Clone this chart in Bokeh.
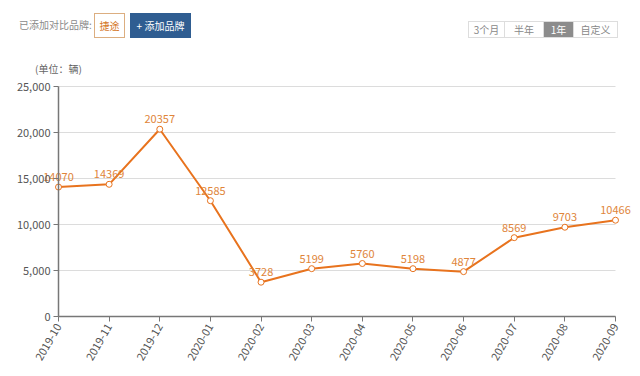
from bokeh.plotting import figure
from bokeh.models import Range1d, FixedTicker, NumeralTickFormatter, ColumnDataSource, Div, Grid
from bokeh.layouts import column
from bokeh.core.properties import value
from bokeh.embed import file_html
from bokeh.resources import INLINE
import math

months = ["2019-10", "2019-11", "2019-12", "2020-01", "2020-02", "2020-03",
          "2020-04", "2020-05", "2020-06", "2020-07", "2020-08", "2020-09"]
sales = [14070, 14369, 20357, 12585, 3728, 5199, 5760, 5198, 4877, 8569, 9703, 10466]
y_ticks = [0, 5000, 10000, 15000, 20000, 25000]
brand = "捷途"
compare_label = "已添加对比品牌:"
add_label = "+ 添加品牌"
periods = ["3个月", "半年", "1年", "自定义"]
selected_period = "1年"
unit_label = "(单位：辆)"

FONT = "Noto Sans CJK SC"
ORANGE = "#e8731e"

xs = list(range(len(months)))
src = ColumnDataSource(dict(x=xs, y=sales, t=[str(v) for v in sales]))

# ---- header (HTML controls) ----
HEADER_H = 76
seg_w = [36, 39, 30, 44]
segs = ""
left = 468
for lbl, w in zip(periods, seg_w):
    sel = lbl == selected_period
    bg = "#8c8c8c" if sel else "white"
    fg = "white" if sel else "#888888"
    segs += (f'<div style="position:absolute;left:{left}px;top:21px;width:{w + 1}px;height:17px;'
             f'box-sizing:border-box;border:1px solid #dddddd;background:{bg};color:{fg};'
             f'font-size:10px;line-height:15px;text-align:center;">{lbl}</div>')
    left += w

header_html = f'''
<div style="position:relative;width:636px;height:{HEADER_H}px;font-family:'{FONT}';">
  <div style="position:absolute;left:19px;top:17px;font-size:10px;line-height:16px;color:#8a8a8a;white-space:nowrap;">{compare_label}</div>
  <div style="position:absolute;left:94px;top:13px;width:31px;height:25px;box-sizing:border-box;
       border:1px solid #dcae80;color:#d4761f;font-size:10px;line-height:23px;text-align:center;">{brand}</div>
  <div style="position:absolute;left:130px;top:13px;width:61px;height:25px;background:#2f5d91;
       color:white;font-size:10px;line-height:25px;text-align:center;white-space:nowrap;">{add_label}</div>
  {segs}
  <div style="position:absolute;left:35px;top:61px;font-size:10px;line-height:16px;color:#666666;white-space:nowrap;">{unit_label}</div>
</div>
'''
header = Div(text=header_html, width=636, height=HEADER_H, margin=0)

# ---- chart ----
W, H = 636, 296
# pixel placement of the data area within the canvas
X0_PX, X1_PX = 58, 615          # x of first / last month
Y_TOP_PX, Y_BOT_PX = 86 - HEADER_H, 316 - HEADER_H   # y of 25000 / 0
n = len(months) - 1
ymax = y_ticks[-1]
px_per_x = (X1_PX - X0_PX) / n
px_per_y = (Y_BOT_PX - Y_TOP_PX) / ymax
x_range = Range1d(-X0_PX / px_per_x, n + (W - X1_PX) / px_per_x)
y_range = Range1d(-(H - Y_BOT_PX) / px_per_y, ymax + Y_TOP_PX / px_per_y)

p = figure(width=W, height=H, output_backend="svg", toolbar_location=None,
           x_range=x_range, y_range=y_range, min_border=0, margin=0)
p.outline_line_color = None
p.background_fill_color = "white"

p.xgrid.grid_line_color = None
p.ygrid.grid_line_color = None
if "cross_bounds" in Grid.properties():
    p.ygrid.grid_line_color = "#dcdcdc"
    p.ygrid.cross_bounds = (0, n)
    p.ygrid.ticker = FixedTicker(ticks=y_ticks)
else:
    p.segment(x0=[0] * len(y_ticks), x1=[n] * len(y_ticks), y0=y_ticks, y1=y_ticks,
              line_color="#dcdcdc", line_width=1)

p.xaxis.ticker = FixedTicker(ticks=xs)
p.xaxis.major_label_overrides = {i: m for i, m in enumerate(months)}
p.xaxis.major_label_orientation = math.pi / 3
p.xaxis.fixed_location = 0
p.xaxis.bounds = (0, n)
p.yaxis.ticker = FixedTicker(ticks=y_ticks)
p.yaxis.formatter = NumeralTickFormatter(format="0,0")
p.yaxis.fixed_location = 0
p.yaxis.bounds = (0, ymax)
for ax in (p.xaxis, p.yaxis):
    ax.axis_line_color = "#777777"
    ax.axis_line_width = 1.5
    ax.major_tick_line_color = "#777777"
    ax.major_tick_in = 0
    ax.major_tick_out = 5
    ax.minor_tick_line_color = None
    ax.major_label_text_font = FONT
    ax.major_label_text_font_size = "11px"
    ax.major_label_text_color = "#555555"
    ax.major_label_standoff = 3

p.line("x", "y", source=src, line_color=ORANGE, line_width=2)
p.scatter("x", "y", source=src, size=6, fill_color="white", line_color=ORANGE, line_width=1)
p.text("x", "y", text="t", source=src, text_align="center", text_baseline="bottom",
       y_offset=-6, text_font=value(FONT), text_font_size="11px", text_color="#e0853a")

layout = column(header, p, spacing=0, margin=0)
open("out.html", "w").write(file_html(layout, INLINE))
